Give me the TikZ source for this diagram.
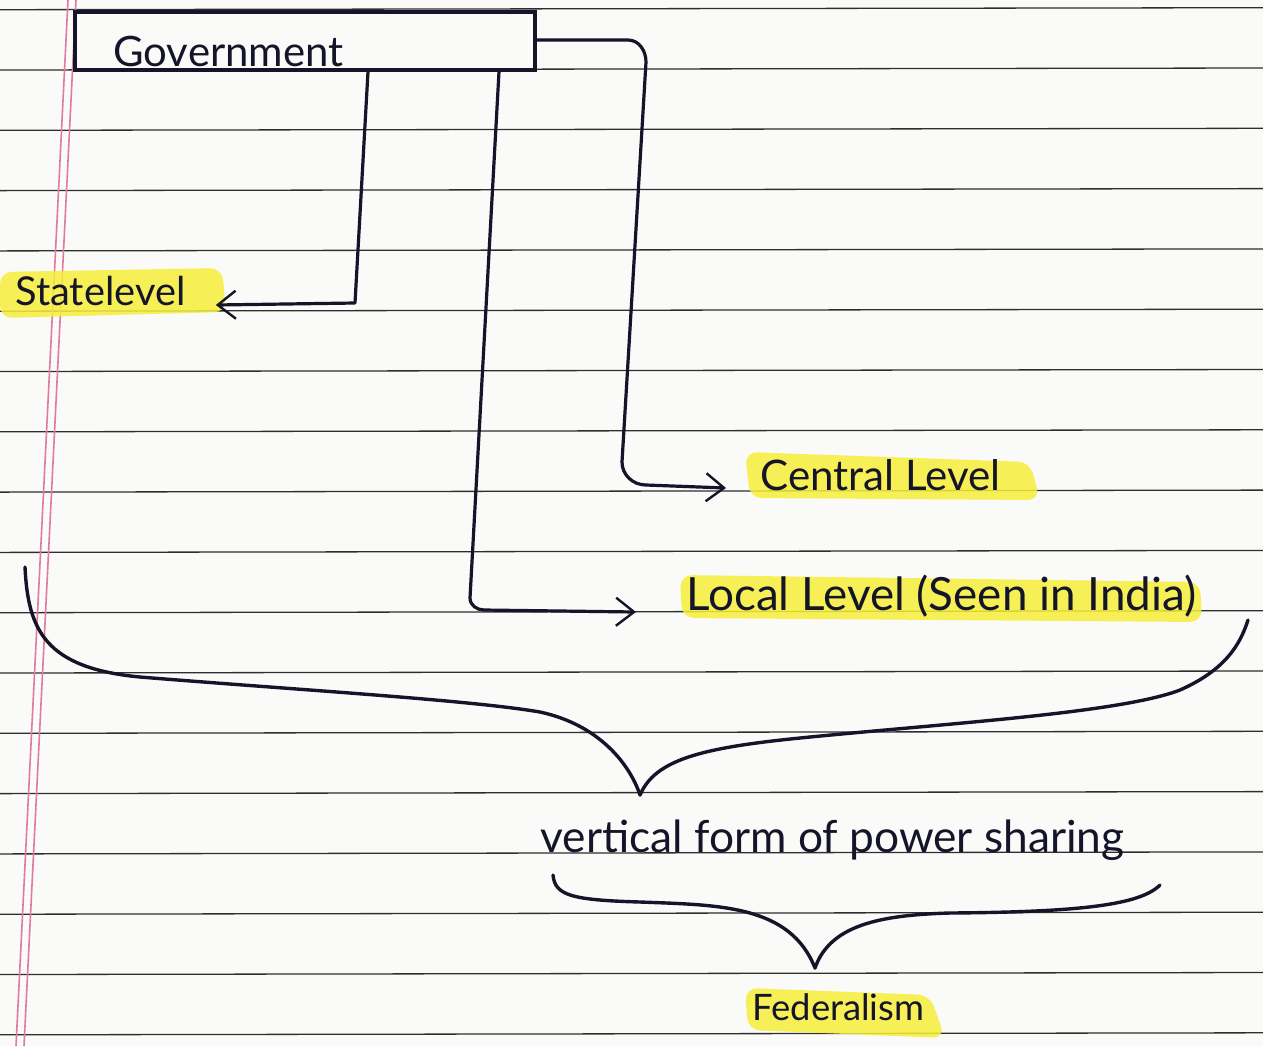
\documentclass[tikz,border=0pt]{standalone}
\usepackage{fontspec}
\setmainfont{Lato}
\usetikzlibrary{arrows.meta}
\definecolor{paper}{HTML}{FAFAF8}
\definecolor{rule}{HTML}{2E2E2E}
\definecolor{margin}{HTML}{E07AA0}
\definecolor{ink}{HTML}{15152A}
\definecolor{hl}{HTML}{F6EF3A}
\tikzset{
  conn/.style={draw=ink, line width=1.6pt, line cap=round, line join=round},
  arr/.style={conn, -{Straight Barb[length=9pt,width=14pt,line width=1.2pt]}},
  brace/.style={draw=ink, line width=1.7pt, line cap=round},
  lbl/.style={inner sep=0pt, text=ink, anchor=base west},
  hilite/.style={fill=hl, opacity=0.85, rounded corners=6pt},
  ruled/.style={draw=rule, line width=0.65pt},
  marg/.style={draw=margin, line width=0.8pt},
}
\begin{document}
\begin{tikzpicture}[x=0.5pt, y=-0.5pt]
\fill[paper] (0,0) rectangle (1263,1046);
\useasboundingbox (0,0) rectangle (1263,1046);
% ruled lines
\foreach \k in {-1,...,16}{
  \draw[ruled] (0,{70+60.3*\k}) -- (1263,{68+60.3*\k});
}
% margin lines
\draw[marg] (68,0) -- (16,1046);
\draw[marg] (76,0) -- (24,1046);
% highlights
\fill[hilite] (0,272) -- (222,268) -- (226,312) -- (0,318) -- cycle;
\fill[hilite] (745,452) -- (1030,462) -- (1040,500) -- (750,498) -- cycle;
\fill[hilite] (680,575) -- (1200,582) -- (1202,622) -- (682,618) -- cycle;
\fill[hilite] (745,988) -- (930,995) -- (945,1038) -- (748,1030) -- cycle;
% government box
\node[draw=ink, line width=1.6pt, minimum width=230pt, minimum height=29pt, inner sep=0pt] (gov) at (305,41) {};
\node[lbl] (govt) at (113,66) {\resizebox{115pt}{!}{Government}};
% labels
\node[lbl] (state) at (15,305) {\resizebox{85pt}{!}{Statelevel}};
\node[lbl] (central) at (760,490) {\resizebox{120pt}{!}{Central Level}};
\node[lbl] (local) at (686,610) {\resizebox{255pt}{!}{Local Level (Seen in India)}};
\node[lbl] (vert) at (540,852) {\resizebox{292pt}{!}{vertical form of power sharing}};
\node[lbl] (fed) at (752,1020) {\resizebox{86pt}{!}{Federalism}};
% branch coordinates on the box
\coordinate (b1) at (368,70);
\coordinate (b2) at (499,70);
\coordinate (b3) at (535,40);
% connectors
\draw[arr] (gov.south -| b1) -- (355,303) -- ([xshift=15pt,yshift=0pt]state.base east);
\draw[arr] (gov.south -| b2) -- (470,598) to[out=-90,in=180] (484,610) -- ([xshift=-25pt,yshift=-1pt]local.base west);
\draw[arr] (gov.east |- b3) -- (628,40) to[out=0,in=90] (646,62) -- (622,462) to[out=-90,in=180] (646,485) -- ([xshift=-17pt,yshift=1pt]central.base west);
% big brace
\coordinate (bl) at (25,567);
\coordinate (br) at (1248,620);
\coordinate (btip) at (640,795);
\draw[brace] (bl) .. controls (28,630) and (45,668) .. (140,677)
  .. controls (300,690) and (470,700) .. (540,712)
  .. controls (600,725) and (630,765) .. (btip);
\draw[brace] (btip) .. controls (655,760) and (700,748) .. (800,738)
  .. controls (950,723) and (1120,713) .. (1180,690)
  .. controls (1225,670) and (1240,645) .. (br);
% small brace
\coordinate (sl) at (553,875);
\coordinate (sr) at (1160,885);
\coordinate (stip) at (815,968);
\draw[brace] (sl) .. controls (555,895) and (570,900) .. (640,902)
  .. controls (720,905) and (790,905) .. (stip);
\draw[brace] (stip) .. controls (830,925) and (880,915) .. (950,913)
  .. controls (1080,912) and (1140,905) .. (sr);
\end{tikzpicture}
\end{document}
